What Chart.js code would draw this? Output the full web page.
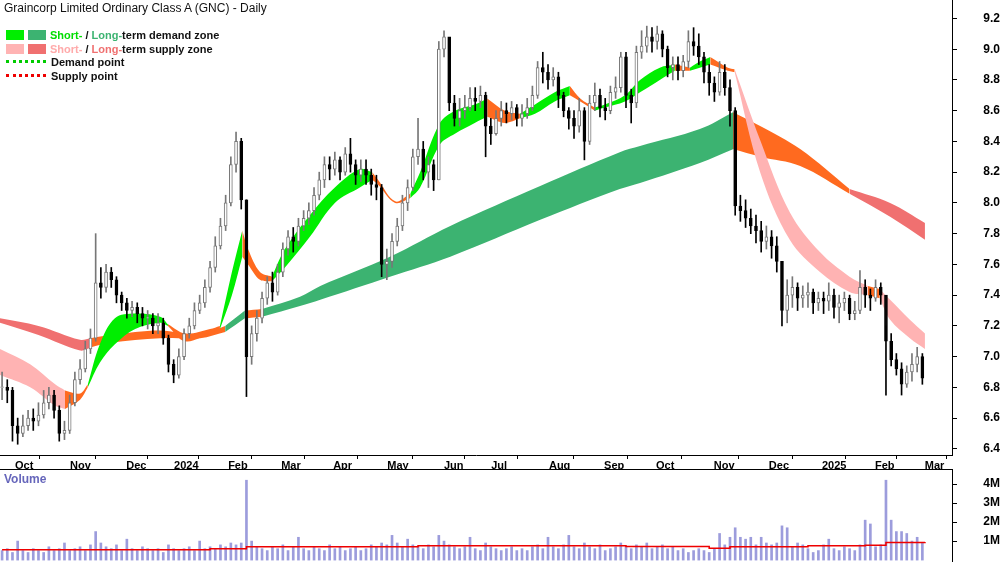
<!DOCTYPE html>
<html>
<head>
<meta charset="utf-8">
<script src="https://cdn.jsdelivr.net/npm/chart.js@4.4.1/dist/chart.umd.min.js"></script>
<style>
  body { margin: 0; background: #fff; font-family: "Liberation Sans", Arial, sans-serif; }
  #wrap { position: relative; width: 1000px; height: 562px; }
  #priceBox { position: absolute; left: 0; top: 0; width: 1000px; height: 469px; }
  #volBox { position: absolute; left: 0; top: 469px; width: 1000px; height: 93px; }
  .title { position: absolute; left: 4px; top: 1px; font-size: 12px; color: #111; }
  .legend { position: absolute; left: 6px; top: 29px; font-size: 11px; font-weight: bold; color: #111; line-height: 13.5px; }
  .sw { display: inline-block; width: 18px; height: 10px; margin-right: 4px; vertical-align: -1px; }
  .dot { display: inline-block; width: 40px; border-top: 3px dotted; margin-right: 5px; vertical-align: 3px; }
  .vlabel { position: absolute; left: 4px; top: 472px; font-size: 12px; font-weight: bold; color: #6666bb; }
</style>
</head>
<body>
<div id="wrap">
  <div id="priceBox"><canvas id="priceChart" width="1000" height="469"></canvas></div>
  <div id="volBox"><canvas id="volChart" width="1000" height="93"></canvas></div>
  <div class="title">Graincorp Limited Ordinary Class A (GNC) - Daily</div>
  <div class="legend">
    <div><span class="sw" style="background:#00ee00"></span><span class="sw" style="background:#3cb371"></span><span style="color:#00dd00">Short-</span> / <span style="color:#3cb371">Long-</span>term demand zone</div>
    <div><span class="sw" style="background:#ffb3b3"></span><span class="sw" style="background:#f07070"></span><span style="color:#ffaaaa">Short-</span> / <span style="color:#f07070">Long-</span>term supply zone</div>
    <div><span class="dot" style="border-color:#00cc00"></span>Demand point</div>
    <div><span class="dot" style="border-color:#ee0000"></span>Supply point</div>
  </div>
  <div class="vlabel">Volume</div>
</div>
<script>
// Bars are every 2 trading days; x position = bar index
const monthTicks = [1.9, 12.5, 23.3, 32.5, 42.9, 53.1, 63.1, 73.5, 84.4, 93.5, 104.6, 115.2, 125.2, 136.3, 146.9, 157.1, 167.3, 176.9];
const monthLabels = ['Oct', 'Nov', 'Dec', '2024', 'Feb', 'Mar', 'Apr', 'May', 'Jun', 'Jul', 'Aug', 'Sep', 'Oct', 'Nov', 'Dec', '2025', 'Feb', 'Mar'];
const priceTicks = [6.4, 6.6, 6.8, 7.0, 7.2, 7.4, 7.6, 7.8, 8.0, 8.2, 8.4, 8.6, 8.8, 9.0, 9.2];
const volTicks = [1, 2, 3, 4];

const closes = [
  6.80,6.78,6.55,6.50,6.55,6.60,6.58,6.62,6.70,6.75,
  6.65,6.50,6.52,6.70,6.85,6.92,7.05,7.12,7.48,7.45,
  7.55,7.50,7.40,7.35,7.30,7.32,7.28,7.25,7.25,7.20,
  7.22,7.12,6.95,6.88,7.00,7.15,7.20,7.30,7.35,7.45,
  7.58,7.72,7.85,8.00,8.25,8.40,8.02,7.00,7.15,7.25,
  7.38,7.48,7.42,7.55,7.70,7.78,7.75,7.85,7.90,7.95,
  8.05,8.15,8.25,8.22,8.28,8.20,8.32,8.25,8.18,8.22,
  8.18,8.12,8.10,7.60,7.62,7.75,7.85,8.00,8.10,8.30,
  8.35,8.20,8.25,8.15,9.00,9.08,8.65,8.55,8.60,8.62,
  8.68,8.66,8.70,8.50,8.45,8.55,8.60,8.58,8.62,8.55,
  8.58,8.62,8.70,8.88,8.85,8.80,8.82,8.70,8.60,8.55,
  8.50,8.60,8.40,8.65,8.70,8.62,8.60,8.72,8.75,8.95,
  8.70,8.65,8.98,9.02,9.08,9.05,9.10,9.00,8.88,8.90,
  8.86,8.92,9.05,9.02,8.95,8.85,8.78,8.72,8.85,8.75,
  8.60,7.98,7.95,7.90,7.85,7.82,7.75,7.78,7.72,7.62,
  7.30,7.40,7.45,7.38,7.40,7.42,7.35,7.38,7.36,7.40,
  7.32,7.35,7.38,7.28,7.30,7.45,7.40,7.38,7.45,7.40,
  7.10,6.98,6.92,6.82,6.90,6.95,7.00,6.86
];
const highs = [
  6.90,6.85,6.80,6.60,6.62,6.65,6.66,6.70,6.78,6.80,
  6.78,6.68,6.58,6.75,6.90,6.98,7.10,7.18,7.80,7.58,
  7.60,7.58,7.52,7.42,7.38,7.36,7.35,7.32,7.30,7.28,
  7.28,7.25,7.14,6.98,7.05,7.18,7.25,7.35,7.40,7.50,
  7.62,7.78,7.90,8.05,8.30,8.46,8.42,8.02,7.20,7.30,
  7.42,7.52,7.55,7.60,7.74,7.82,7.84,7.90,7.95,8.00,
  8.10,8.20,8.30,8.30,8.33,8.30,8.36,8.42,8.28,8.28,
  8.28,8.22,8.18,8.12,7.70,7.80,7.90,8.05,8.15,8.35,
  8.55,8.40,8.30,8.28,9.05,9.12,9.05,8.70,8.68,8.70,
  8.75,8.75,8.76,8.72,8.55,8.60,8.66,8.65,8.66,8.64,
  8.64,8.68,8.76,8.92,8.98,8.90,8.88,8.85,8.72,8.62,
  8.60,8.68,8.62,8.70,8.78,8.74,8.68,8.76,8.82,8.98,
  8.98,8.74,9.02,9.12,9.15,9.14,9.15,9.12,9.02,8.95,
  8.95,8.96,9.12,9.14,9.10,8.98,8.90,8.82,8.92,8.90,
  8.80,8.62,8.05,8.02,7.96,7.92,7.88,7.85,7.82,7.78,
  7.62,7.50,7.52,7.48,7.46,7.48,7.44,7.42,7.42,7.48,
  7.44,7.40,7.42,7.40,7.36,7.56,7.50,7.44,7.50,7.48,
  7.20,7.15,7.02,6.96,6.94,7.02,7.06,7.02
];
const lows = [
  6.72,6.70,6.45,6.43,6.48,6.52,6.52,6.55,6.60,6.66,
  6.60,6.45,6.46,6.50,6.68,6.82,6.90,7.02,7.10,7.38,
  7.42,7.45,7.35,7.30,7.25,7.26,7.22,7.20,7.18,7.15,
  7.15,7.08,6.90,6.83,6.86,6.98,7.12,7.18,7.28,7.32,
  7.42,7.55,7.70,7.82,7.98,8.20,7.96,6.74,6.95,7.10,
  7.22,7.34,7.36,7.40,7.52,7.66,7.68,7.72,7.82,7.86,
  7.92,8.02,8.10,8.15,8.18,8.15,8.18,8.20,8.12,8.14,
  8.12,8.05,8.02,7.52,7.50,7.58,7.72,7.82,7.95,8.08,
  8.25,8.15,8.10,8.08,8.15,8.95,8.60,8.50,8.50,8.55,
  8.60,8.60,8.62,8.30,8.38,8.44,8.50,8.52,8.54,8.50,
  8.50,8.55,8.60,8.68,8.78,8.74,8.76,8.62,8.56,8.48,
  8.42,8.46,8.28,8.38,8.60,8.56,8.54,8.58,8.68,8.72,
  8.62,8.52,8.62,8.94,8.98,8.98,9.00,8.95,8.82,8.80,
  8.80,8.82,8.88,8.96,8.90,8.78,8.70,8.66,8.70,8.70,
  8.50,7.92,7.88,7.84,7.80,7.74,7.68,7.70,7.64,7.55,
  7.20,7.22,7.32,7.30,7.32,7.32,7.28,7.30,7.28,7.30,
  7.25,7.22,7.30,7.24,7.24,7.28,7.32,7.30,7.36,7.34,
  6.75,6.94,6.88,6.75,6.80,6.84,6.90,6.82
];
// volume in millions
const volumes = [
  0.5,0.6,0.4,1.0,0.5,0.4,0.6,0.5,0.4,0.7,
  0.5,0.6,0.9,0.5,0.6,0.7,0.5,0.8,1.5,0.9,
  0.7,0.6,0.8,0.5,1.1,0.6,0.5,0.7,0.6,0.5,
  0.6,0.4,0.8,0.6,0.5,0.6,0.7,0.5,1.0,0.6,
  0.7,0.6,0.8,0.7,0.9,0.8,0.9,4.2,1.0,0.7,
  0.6,0.5,0.7,0.6,0.8,0.5,0.7,1.2,0.6,0.5,
  0.7,0.6,0.5,0.8,0.6,0.7,0.5,0.6,0.7,0.5,
  0.6,0.8,0.7,0.9,0.8,1.3,0.9,0.7,1.1,0.8,
  0.7,0.6,0.8,0.7,1.3,1.0,0.8,0.7,0.6,0.7,
  1.2,0.6,0.5,0.9,0.7,0.6,0.5,0.6,0.7,0.5,
  0.6,0.5,0.7,0.8,0.6,1.2,0.7,0.6,0.8,1.3,
  0.7,0.6,0.9,0.7,0.6,0.8,0.5,0.6,0.7,0.9,
  0.7,0.6,0.8,0.7,0.9,0.6,0.7,0.8,0.6,0.7,
  0.5,0.6,0.4,0.5,0.6,0.5,0.4,0.6,1.4,0.8,
  1.2,1.7,1.2,1.1,1.2,0.8,1.2,0.9,0.8,0.9,
  1.8,1.7,0.7,0.9,0.8,0.6,0.4,0.5,0.8,1.1,
  0.6,0.5,0.7,0.6,0.5,0.8,2.1,1.9,0.7,0.8,
  4.2,2.1,1.5,1.5,1.4,1.0,1.2,0.9
];
const volAvg = [[0,0.55],[40,0.6],[47,0.7],[80,0.75],[120,0.72],[136,0.62],[140,0.7],[155,0.75],[166,0.78],[170,0.93],[177.5,0.95]];

// zone segments: [x, upper, lower]
const shortPink1 = [[-0.4,7.05,6.88],[5.4,6.95,6.80],[10.2,6.82,6.68],[12.1,6.78,6.66]];
const shortOrange1 = [[12.1,6.78,6.66],[15,6.76,6.72],[16.5,6.82,6.80]];
const shortGreen1 = [[16.5,6.82,6.80],[18.8,7.08,6.96],[21.7,7.25,7.08],[25.6,7.28,7.18],[30.4,7.26,7.22],[31.9,7.21,7.20]];
const shortOrange2 = [[31.9,7.21,7.20],[35.2,7.15,7.10],[40,7.18,7.15],[41.9,7.20,7.18]];
const shortGreen2 = [[41.9,7.20,7.18],[44.2,7.55,7.40],[46.2,7.82,7.65]];
const shortOrange3 = [[46.2,7.82,7.65],[47.3,7.70,7.60],[49.6,7.55,7.50],[51.9,7.52,7.49]];
const shortGreen3 = [[51.9,7.52,7.49],[54.4,7.70,7.58],[59.2,7.92,7.78],[64,8.10,8.00],[68.8,8.22,8.10],[71.2,8.20,8.15]];
const shortOrange4 = [[71.2,8.20,8.15],[72.3,8.15,8.12],[75.6,8.01,8.00],[78.5,8.06,8.03]];
const shortGreen4 = [[78.5,8.06,8.03],[80.4,8.20,8.10],[84.2,8.52,8.38],[87.1,8.60,8.45],[90.9,8.64,8.52],[93.3,8.68,8.56]];
const shortOrange5 = [[93.3,8.68,8.56],[96.7,8.60,8.52],[99.6,8.58,8.55]];
const shortGreen5 = [[99.6,8.58,8.55],[102.5,8.64,8.58],[106.3,8.72,8.66],[109.2,8.76,8.70]];
const shortOrange6 = [[109.2,8.76,8.70],[111.2,8.68,8.66],[114,8.62,8.60]];
const shortGreen6 = [[114,8.62,8.60],[115.9,8.64,8.62],[119.8,8.70,8.66],[122.7,8.80,8.72],[126.5,8.88,8.80],[129.4,8.90,8.86]];
const shortOrange7 = [[129.4,8.90,8.86],[132.3,8.88,8.86]];
const shortGreen7 = [[132.3,8.88,8.86],[134.2,8.92,8.88],[136.2,8.95,8.90]];
const shortOrange8 = [[136.2,8.95,8.90],[139.6,8.88,8.86],[140.9,8.87,8.85]];
const shortPink2 = [[140.9,8.87,8.85],[145.8,8.41,8.20],[151.5,7.94,7.76],[157.3,7.68,7.55],[163,7.52,7.42],[166.5,7.46,7.40]];
const shortOrange9 = [[166.5,7.46,7.40],[168.8,7.44,7.38]];
const shortPink3 = [[168.8,7.44,7.38],[170.8,7.37,7.24],[174.6,7.24,7.12],[177.5,7.15,7.05]];

const longRed1 = [[-0.4,7.25,7.22],[7,7.20,7.14],[15,7.11,7.04],[17,7.12,7.06]];
const longOrange1 = [[17,7.12,7.06],[20.8,7.14,7.09],[30.4,7.17,7.12],[38.1,7.14,7.12],[42.9,7.20,7.16]];
const longGreen1 = [[42.9,7.20,7.16],[46.7,7.30,7.25]];
const longOrange2 = [[46.7,7.30,7.25],[50,7.31,7.26]];
const longGreen2 = [[50,7.31,7.26],[57.3,7.39,7.33],[61.2,7.46,7.37],[74.6,7.65,7.52],[86.2,7.85,7.65],[103.5,8.11,7.89],[118.8,8.33,8.09],[122.7,8.37,8.13],[134.2,8.48,8.26],[140.6,8.59,8.35]];
const longOrange3 = [[140.6,8.59,8.35],[145.8,8.50,8.30],[153.5,8.35,8.24],[163,8.09,8.06]];
const longRed2 = [[163,8.09,8.06],[170.8,8.00,7.91],[177.5,7.87,7.76]];

const GREEN = '#00ee00', DKGREEN = '#3cb371', ORANGE = '#ff6a1f', PINK = '#ffb3b3', RED = '#f07070';

function band(seg, color, order) {
    // two lines, the upper one filled down to the lower one
    const common = { type: 'line', pointRadius: 0, borderWidth: 0, tension: 0.35, order: order };
    return [
        Object.assign({}, common, { data: seg.map(p => ({ x: p[0], y: p[1] })), fill: '+1', backgroundColor: color, borderColor: color }),
        Object.assign({}, common, { data: seg.map(p => ({ x: p[0], y: p[2] })), fill: false, borderColor: color })
    ];
}

const xMin = -0.4, xMax = 182.7;
const opens = closes.map((c, i) => i === 0 ? c : closes[i - 1]);
const isUp = closes.map((c, i) => c >= opens[i]);

let datasets = [];
[[longRed1, RED], [longOrange1, ORANGE], [longGreen1, DKGREEN], [longOrange2, ORANGE], [longGreen2, DKGREEN], [longOrange3, ORANGE], [longRed2, RED]]
    .forEach(s => { datasets = datasets.concat(band(s[0], s[1], 3)); });
[[shortPink1, PINK], [shortOrange1, ORANGE], [shortGreen1, GREEN], [shortOrange2, ORANGE], [shortGreen2, GREEN], [shortOrange3, ORANGE],
 [shortGreen3, GREEN], [shortOrange4, ORANGE], [shortGreen4, GREEN], [shortOrange5, ORANGE], [shortGreen5, GREEN], [shortOrange6, ORANGE],
 [shortGreen6, GREEN], [shortOrange7, ORANGE], [shortGreen7, GREEN], [shortOrange8, ORANGE], [shortPink2, PINK], [shortOrange9, ORANGE], [shortPink3, PINK]]
    .forEach(s => { datasets = datasets.concat(band(s[0], s[1], 2)); });

// wicks
datasets.push({
    type: 'bar', order: 1, grouped: false, barThickness: 1,
    data: closes.map((c, i) => ({ x: i, y: [lows[i], highs[i]] })),
    backgroundColor: isUp.map(u => u ? '#777' : '#000')
});
// bodies
datasets.push({
    type: 'bar', order: 0, grouped: false, barThickness: 3, borderWidth: 1, borderSkipped: false,
    data: closes.map((c, i) => ({ x: i, y: [opens[i], c === opens[i] ? c + 0.004 : c] })),
    backgroundColor: isUp.map(u => u ? '#fff' : '#000'),
    borderColor: isUp.map(u => u ? '#777' : '#000')
});

const font = { family: '"Liberation Sans", Arial, sans-serif', size: 12 };
function fixY(scale) {
    scale.width = 48;
    scale.paddingTop = 0;
    scale.paddingBottom = 0;
}

new Chart(document.getElementById('priceChart'), {
    data: { datasets: datasets },
    options: {
        responsive: false, animation: false,
        layout: { padding: 0 },
        plugins: { legend: { display: false }, tooltip: { enabled: false } },
        scales: {
            x: {
                type: 'linear', min: xMin, max: xMax, offset: false,
                afterBuildTicks: s => { s.ticks = monthTicks.map(v => ({ value: v })); },
                afterFit: s => { s.height = 14; s.paddingLeft = 0; s.paddingRight = 0; },
                ticks: {
                    autoSkip: false, maxRotation: 0, align: 'start', padding: 0, labelOffset: 3,
                    color: '#000', font: Object.assign({}, font, { size: 11, weight: 'bold' }),
                    callback: (v, i) => monthLabels[i]
                },
                grid: { drawOnChartArea: false, tickLength: 4, color: '#000' },
                border: { color: '#000' }
            },
            y: {
                position: 'right', min: 6.36, max: 9.32,
                afterBuildTicks: s => { s.ticks = priceTicks.map(v => ({ value: v })); },
                afterFit: fixY,
                ticks: { color: '#000', font: Object.assign({}, font, { weight: 'bold' }), crossAlign: 'far', padding: 4, callback: v => v.toFixed(1) },
                grid: { drawOnChartArea: false, tickLength: 5, color: '#000' },
                border: { color: '#000' }
            }
        }
    }
});

new Chart(document.getElementById('volChart'), {
    data: {
        datasets: [
            { type: 'line', order: 0, data: volAvg.map(p => ({ x: p[0], y: p[1] })), borderColor: '#ee0000', borderWidth: 1.5, pointRadius: 0, stepped: true },
            { type: 'bar', order: 1, barThickness: 2, data: volumes.map((v, i) => ({ x: i, y: v })), backgroundColor: '#9c9cdc' }
        ]
    },
    options: {
        responsive: false, animation: false,
        layout: { padding: 0 },
        plugins: { legend: { display: false }, tooltip: { enabled: false } },
        scales: {
            x: { type: 'linear', min: xMin, max: xMax, offset: false, display: false },
            y: {
                position: 'right', min: -0.1, max: 4.79,
                afterBuildTicks: s => { s.ticks = volTicks.map(v => ({ value: v })); },
                afterFit: fixY,
                ticks: { color: '#000', font: Object.assign({}, font, { weight: 'bold' }), crossAlign: 'far', padding: 4, callback: v => v + 'M' },
                grid: { drawOnChartArea: false, tickLength: 5, color: '#000' },
                border: { color: '#000' }
            }
        }
    },
    plugins: [{
        id: 'topLine',
        afterDraw(chart) {
            const ctx = chart.ctx;
            ctx.save();
            ctx.strokeStyle = '#000';
            ctx.lineWidth = 1;
            ctx.beginPath();
            ctx.moveTo(0, 0.5);
            ctx.lineTo(chart.chartArea.right, 0.5);
            ctx.stroke();
            ctx.restore();
        }
    }]
});
</script>
</body>
</html>
